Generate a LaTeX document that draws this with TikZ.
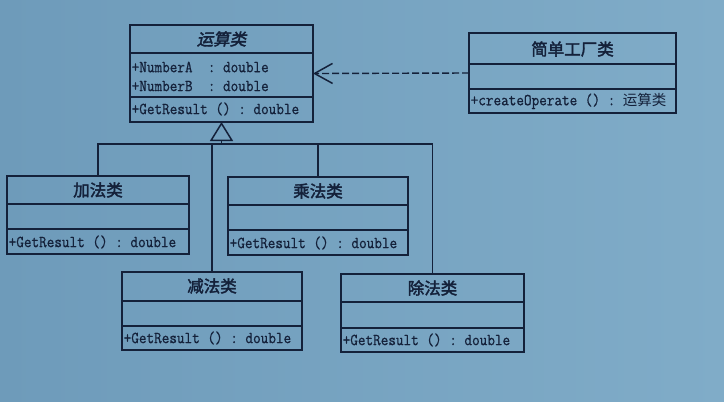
\documentclass[tikz,border=0pt]{standalone}
\usepackage{fontspec}
\newfontfamily\cjk{Noto Sans CJK SC}
\newfontfamily\cjkb{Noto Sans CJK SC}[FakeBold=2.2]
\newfontfamily\cjkbi{Noto Sans CJK SC}[FakeBold=2.2,FakeSlant=0.2]
\newfontfamily\mono{Latin Modern Mono}[FakeStretch=0.88,FakeBold=0.7]
\usetikzlibrary{arrows.meta}
\definecolor{bgl}{RGB}{110,155,186}
\definecolor{bgr}{RGB}{128,172,200}
\definecolor{ink}{RGB}{20,33,58}
\tikzset{
  classbox/.style={draw=ink, line width=1.8pt, anchor=north west, inner sep=0pt, outer sep=0pt},
  ctitle/.style={text=ink, font=\cjkb\fontsize{16.5}{17}\selectfont, inner sep=0pt},
  member/.style={text=ink, font=\mono\fontsize{16.8}{17}\selectfont, anchor=west, inner sep=0pt, xshift=1.5pt},
  divider/.style={draw=ink, line width=1.8pt},
  link/.style={draw=ink, line width=1.4pt},
}
\begin{document}
\begin{tikzpicture}[x=1pt,y=-1pt]
\shade[left color=bgl, right color=bgr] (0,0) rectangle (724,402);
\useasboundingbox (0,0) rectangle (724,402);

% abstract class
\node[classbox, minimum width=183pt, minimum height=97pt] (op) at (130,25) {};
\draw[divider] (op.west |- 0,53) -- (op.east |- 0,53);
\draw[divider] (op.west |- 0,97) -- (op.east |- 0,97);
\node[ctitle, font=\cjkbi\fontsize{16.5}{17}\selectfont] (opt) at (op.north |- 0,39) {运算类};
\node[member] (opa) at (op.west |- 0,67) {+NumberA\ \ :\ double};
\node[member] (opb) at (op.west |- 0,86) {+NumberB\ \ :\ double};
\node[member] (opm) at (op.west |- 0,109) {+GetResult\ ()\ :\ double};

% factory
\node[classbox, minimum width=207pt, minimum height=80pt] (fac) at (469,33) {};
\draw[divider] (fac.west |- 0,64) -- (fac.east |- 0,64);
\draw[divider] (fac.west |- 0,89) -- (fac.east |- 0,89);
\node[ctitle] (fact) at (fac.north |- 0,49) {简单工厂类};
\node[member] (facm) at (fac.west |- 0,101) {+createOperate\ ()\ :\ {\cjk\fontsize{14.5}{15}\selectfont 运算类}};

% subclasses
\node[classbox, minimum width=182pt, minimum height=78pt] (add) at (7,176) {};
\draw[divider] (add.west |- 0,204) -- (add.east |- 0,204);
\draw[divider] (add.west |- 0,229) -- (add.east |- 0,229);
\node[ctitle] (addt) at (add.north |- 0,190) {加法类};
\node[member] (addm) at (add.west |- 0,242) {+GetResult\ ()\ :\ double};

\node[classbox, minimum width=180pt, minimum height=78pt] (mul) at (228,177) {};
\draw[divider] (mul.west |- 0,205) -- (mul.east |- 0,205);
\draw[divider] (mul.west |- 0,230) -- (mul.east |- 0,230);
\node[ctitle] (mult) at (mul.north |- 0,191) {乘法类};
\node[member] (mulm) at (mul.west |- 0,243) {+GetResult\ ()\ :\ double};

\node[classbox, minimum width=180pt, minimum height=78pt] (sub) at (122,272) {};
\draw[divider] (sub.west |- 0,301) -- (sub.east |- 0,301);
\draw[divider] (sub.west |- 0,326) -- (sub.east |- 0,326);
\node[ctitle] (subt) at (sub.north |- 0,286) {减法类};
\node[member] (subm) at (sub.west |- 0,338) {+GetResult\ ()\ :\ double};

\node[classbox, minimum width=183pt, minimum height=78pt] (div) at (341,274) {};
\draw[divider] (div.west |- 0,302) -- (div.east |- 0,302);
\draw[divider] (div.west |- 0,328) -- (div.east |- 0,328);
\node[ctitle] (divt) at (div.north |- 0,288) {除法类};
\node[member] (divm) at (div.west |- 0,340) {+GetResult\ ()\ :\ double};

% inheritance tree
\coordinate (bus) at (op.south |- 0,144);
\draw[link] (add.north) -- (add.north |- bus) -- (div.north |- bus) -- (div.north);
\draw[link] (sub.north) -- (sub.north |- bus);
\draw[link] (mul.north) -- (mul.north |- bus);
\draw[link, -{Triangle[open, length=19pt, width=23pt, line width=1.5pt]}] (bus) -- (op.south);

% dependency
\draw[link, dash pattern=on 7pt off 3pt, -{Straight Barb[length=18pt, width=20pt, line width=1.5pt]}] (fac.west) -- (op.east);
\end{tikzpicture}
\end{document}
